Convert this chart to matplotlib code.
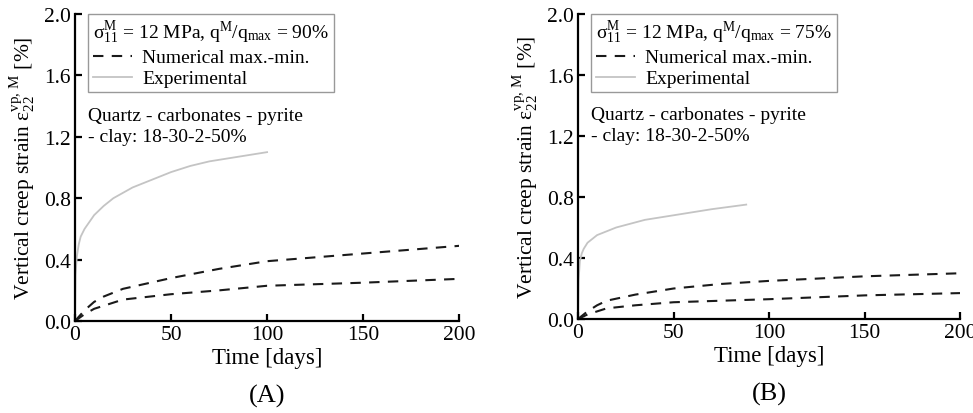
import numpy as np
import matplotlib
matplotlib.use('Agg')
import matplotlib.pyplot as plt
from matplotlib.lines import Line2D

plt.rcParams['font.family'] = ['Liberation Serif', 'DejaVu Serif']
plt.rcParams['mathtext.fontset'] = 'custom'
plt.rcParams['mathtext.rm'] = 'Liberation Serif'
plt.rcParams['mathtext.it'] = 'Liberation Serif:italic'

# panel A (q/qmax = 90%)
expA_t = [0, 0.3, 1, 2, 3, 5, 10, 15, 20, 30, 40, 50, 60, 70, 85, 100]
expA_v = [0, 0.3, 0.42, 0.5, 0.55, 0.6, 0.69, 0.75, 0.8, 0.87, 0.92, 0.97, 1.01, 1.04, 1.07, 1.1]
numA_t = [0, 5, 10, 15, 25, 50, 75, 100, 150, 200]
numA_hi = [0, 0.07, 0.125, 0.16, 0.21, 0.28, 0.34, 0.39, 0.44, 0.49]
numA_lo = [0, 0.045, 0.08, 0.1, 0.14, 0.175, 0.2, 0.23, 0.25, 0.275]

# panel B (q/qmax = 75%)
expB_t = [0, 0.3, 1, 2, 3, 5, 10, 20, 35, 50, 70, 88]
expB_v = [0, 0.25, 0.38, 0.43, 0.46, 0.5, 0.55, 0.6, 0.65, 0.68, 0.72, 0.75]
numB_t = [0, 5, 10, 15, 30, 50, 75, 100, 150, 200]
numB_hi = [0, 0.05, 0.09, 0.12, 0.16, 0.2, 0.23, 0.25, 0.28, 0.3]
numB_lo = [0, 0.03, 0.05, 0.07, 0.09, 0.11, 0.12, 0.13, 0.155, 0.17]

fig = plt.figure(figsize=(9.73, 4.14), dpi=100)
axA = fig.add_axes([0.077, 0.222, 0.395, 0.742])
axB = fig.add_axes([0.594, 0.227, 0.393, 0.737])

panels = [
    (axA, expA_t, expA_v, numA_t, numA_hi, numA_lo, '90', '(A)'),
    (axB, expB_t, expB_v, numB_t, numB_hi, numB_lo, '75', '(B)'),
]

for ax, et, ev, nt, nh, nl, pct, lab in panels:
    ax.plot(et, ev, color='#c4c4c4', lw=1.3)
    ax.plot(nt, nh, color='#1a1a1a', lw=1.5, dashes=(5, 4))
    ax.plot(nt, nl, color='#1a1a1a', lw=1.5, dashes=(5, 4))
    ax.set_xlim(0, 200)
    ax.set_ylim(0, 2.0)
    ax.set_xticks([0, 50, 100, 150, 200])
    ax.set_yticks([0, 0.4, 0.8, 1.2, 1.6, 2.0])
    ax.set_yticklabels(['0.0', '0.4', '0.8', '1.2', '1.6', '2.0'])
    for s in ['top', 'right']:
        ax.spines[s].set_visible(False)
    for s in ['left', 'bottom']:
        ax.spines[s].set_linewidth(1.6)
    ax.tick_params(direction='in', length=5, width=1.6, labelsize=15.5, pad=3)
    ax.set_xlabel('Time [days]', fontsize=16.5, labelpad=2)
    ax.set_ylabel(r'Vertical creep strain $\mathrm{\varepsilon}_{22}^{\mathrm{vp,\,M}}$ [%]', fontsize=15.5, labelpad=4)

    handles = [Line2D([], [], color='#1a1a1a', lw=1.5, dashes=(5, 4)),
               Line2D([], [], color='#c4c4c4', lw=1.3)]
    leg = ax.legend(handles, ['Numerical max.-min.', 'Experimental'],
                    title=r'$\mathrm{\sigma}_{11}^{\mathrm{M}}$ = 12 MPa, q$^{\mathrm{M}}$/q$_{\mathrm{max}}$ = ' + pct + '%',
                    title_fontsize=14, fontsize=14, loc='upper left',
                    bbox_to_anchor=(0.034, 1.0), borderaxespad=0, fancybox=False,
                    edgecolor='#999999', framealpha=1, alignment='left',
                    handlelength=2.0, handletextpad=0.55, labelspacing=0.18,
                    borderpad=0.25)
    leg.get_frame().set_linewidth(1.0)
    ax.text(0.034, 0.697, 'Quartz - carbonates - pyrite\n- clay: 18-30-2-50%',
            transform=ax.transAxes, fontsize=14, va='top', ha='left', linespacing=1.3)
    ax.text(0.5, -0.205, lab, transform=ax.transAxes, fontsize=19, ha='center', va='top')

fig.savefig('out.png', dpi=100)
